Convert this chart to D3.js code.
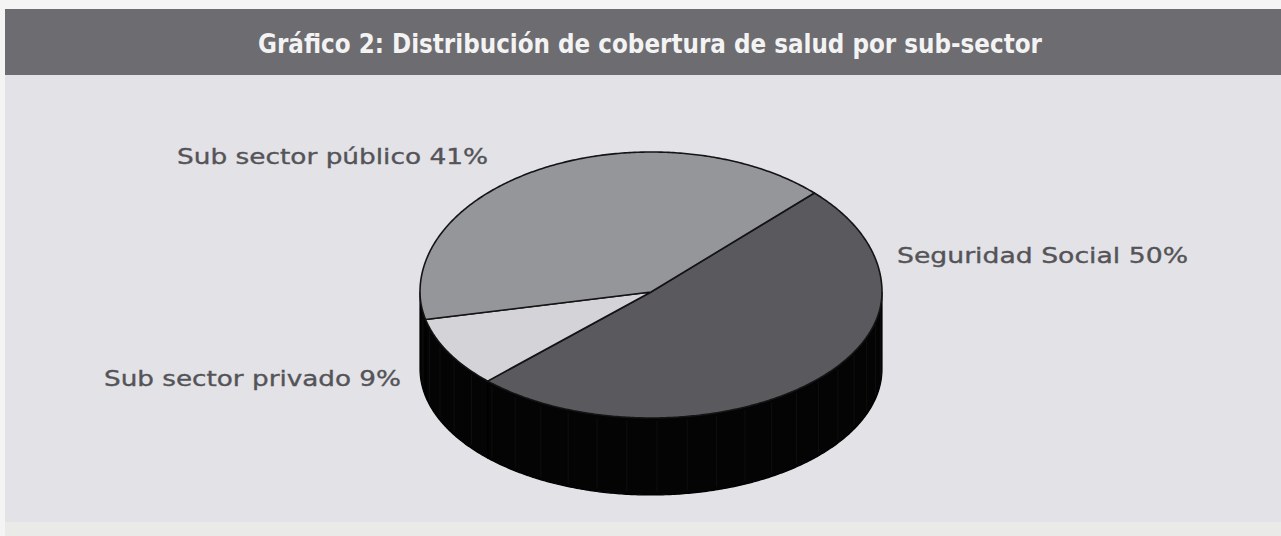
<!DOCTYPE html>
<html>
<head>
<meta charset="utf-8">
<script src="https://cdn.jsdelivr.net/npm/d3@7"></script>
<style>
  html, body { margin: 0; padding: 0; background: #ffffff; }
  svg { display: block; }
</style>
</head>
<body>
<svg id="chart" width="1281" height="536"></svg>
<script>
// Health coverage shares by sub-sector (percent)
const sectors = ["Seguridad Social", "Sub sector privado", "Sub sector público"];
const shares = [50, 9, 41];
const labels = ["Seguridad Social 50%", "Sub sector privado 9%", "Sub sector público 41%"];
const title = "Gráfico 2: Distribución de cobertura de salud por sub-sector";

const W = 1281, H = 536;
const svg = d3.select("#chart");

// panel + title bar
svg.append("rect").attr("x", 0).attr("y", 0).attr("width", W).attr("height", H).attr("fill", "#f4f4f4");
svg.append("rect").attr("x", 5).attr("y", 9).attr("width", W - 5).attr("height", 513).attr("fill", "#e3e2e7");
svg.append("rect").attr("x", 5).attr("y", 522).attr("width", W - 5).attr("height", 14).attr("fill", "#eaeae8");
svg.append("rect").attr("x", 5).attr("y", 9).attr("width", W - 5).attr("height", 66).attr("fill", "#6d6c71");

svg.append("text")
  .attr("x", 650).attr("y", 53)
  .attr("text-anchor", "middle")
  .attr("font-family", "'Liberation Sans Narrow', 'DejaVu Sans Condensed', 'Open Sans', sans-serif")
  .attr("font-weight", "bold")
  .attr("font-size", 26)
  .attr("fill", "#f3f3f3")
  .attr("textLength", 784)
  .attr("lengthAdjust", "spacingAndGlyphs")
  .text(title);

// 3D pie geometry (tilted disc)
const cx = 651, cy = 292, rx = 231, ryFar = 140, ryNear = 126, depth = 77;
const fills = { "Seguridad Social": "#5a595e", "Sub sector privado": "#d4d4d8", "Sub sector público": "#95969a" };

function pt(a, dy = 0) {
  const c = Math.cos(a);
  const ry = c > 0 ? ryFar : ryNear;
  return [cx + rx * Math.sin(a), cy - ry * c + dy];
}
function arcPoints(a0, a1, dy = 0) {
  const n = Math.max(2, Math.ceil(Math.abs(a1 - a0) / 0.01));
  return d3.range(n + 1).map(i => pt(a0 + (a1 - a0) * i / n, dy));
}

const pie = d3.pie().sort(null).value(d => d.v)
  .startAngle(45 * Math.PI / 180)
  .endAngle(45 * Math.PI / 180 + 2 * Math.PI);
const arcs = pie(sectors.map((s, i) => ({ s, v: shares[i] })));

const line = d3.line();
const gSide = svg.append("g");
const gTop = svg.append("g");

// visible side wall: front half of the disc (angles between 90° and 270°)
const frontA = Math.PI / 2, frontB = 3 * Math.PI / 2;
arcs.forEach(d => {
  [0, 2 * Math.PI].forEach(off => {
    const a0 = Math.max(d.startAngle - off, frontA);
    const a1 = Math.min(d.endAngle - off, frontB);
    if (a1 <= a0) return;
    const top = arcPoints(a0, a1);
    const bot = arcPoints(a1, a0, depth);
    gSide.append("path")
      .attr("d", line(top.concat(bot)) + "Z")
      .attr("fill", "#040404")
      .attr("stroke", "#000")
      .attr("stroke-width", 1.2);
  });
});
// faint facet seams on the wall
d3.range(96, 266, 7.5).forEach(deg => {
  const a = deg * Math.PI / 180;
  const p0 = pt(a), p1 = pt(a, depth);
  gSide.append("line")
    .attr("x1", p0[0]).attr("y1", p0[1] + 3)
    .attr("x2", p1[0]).attr("y2", p1[1] - 3)
    .attr("stroke", "#2b2b2b").attr("stroke-width", 0.8).attr("opacity", 0.35);
});

// top faces
arcs.forEach(d => {
  const pts = [[cx, cy]].concat(arcPoints(d.startAngle, d.endAngle));
  gTop.append("path")
    .attr("d", line(pts) + "Z")
    .attr("fill", fills[d.data.s])
    .attr("stroke", "#141414")
    .attr("stroke-width", 1.6)
    .attr("stroke-linejoin", "round");
});

// labels
const labelPos = [
  { x: 897, y: 263, w: 291 },
  { x: 104, y: 386, w: 297 },
  { x: 177, y: 164, w: 311 }
];
labels.forEach((t, i) => {
  svg.append("text")
    .attr("x", labelPos[i].x).attr("y", labelPos[i].y)
    .attr("font-family", "'DejaVu Sans', Verdana, sans-serif")
    .attr("font-size", 21)
    .attr("fill", "#545458")
    .attr("stroke", "#545458")
    .attr("stroke-width", 0.35)
    .attr("textLength", labelPos[i].w)
    .attr("lengthAdjust", "spacingAndGlyphs")
    .text(t);
});
</script>
</body>
</html>
